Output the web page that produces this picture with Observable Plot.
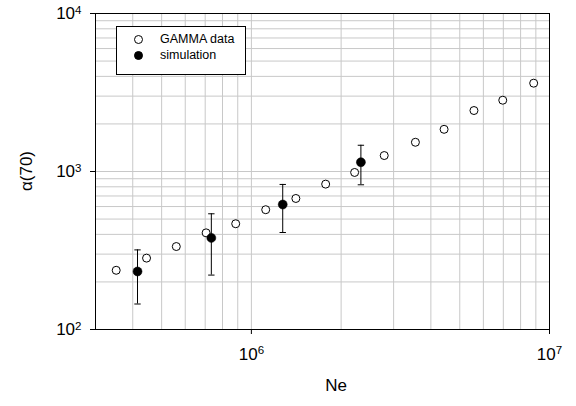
<!DOCTYPE html>
<html><head><meta charset="utf-8">
<script src="https://cdn.jsdelivr.net/npm/d3@7"></script>
<script src="https://cdn.jsdelivr.net/npm/@observablehq/plot@0.6"></script>
<style>
body{margin:0;background:#fff;font-family:"Liberation Sans",Arial,sans-serif}
#chart{position:relative;width:576px;height:406px}
.legend{position:absolute;left:116px;top:26px;width:130px;height:49px;border:1px solid #000;background:#fff;box-sizing:border-box}
.legend .sym{position:absolute;left:17px;width:9px;height:9px;border-radius:50%;box-sizing:border-box;border:1px solid #000}
.legend .lab{position:absolute;left:43px;font-size:12.5px;line-height:14px;color:#000}
</style>
</head><body>
<div id="chart"></div>
<script>
const gammaNe = [3.52e5, 4.45e5, 5.60e5, 7.05e5, 8.86e5, 1.117e6, 1.41e6, 1.775e6, 2.22e6, 2.79e6, 3.55e6, 4.43e6, 5.58e6, 6.97e6, 8.85e6];
const gammaAlpha = [237, 283, 335, 409, 467, 573, 675, 832, 986, 1262, 1531, 1849, 2432, 2826, 3622];
const simNe = [4.15e5, 7.34e5, 1.274e6, 2.33e6];
const simAlpha = [233, 380, 618, 1145];
const simLow = [145, 221, 411, 824];
const simHigh = [319, 540, 828, 1466];
const xTicks = [1e6, 1e7];
const yTicks = [1e2, 1e3, 1e4];
const seriesNames = ["GAMMA data", "simulation"];
const xTitle = "Ne";
const yTitle = "α(70)";

const gamma = gammaNe.map((x, i) => ({x, y: gammaAlpha[i]}));
const sim = simNe.map((x, i) => ({x, y: simAlpha[i], lo: simLow[i], hi: simHigh[i]}));

const minor = (lo, hi) => {
  const out = [];
  for (let e = Math.floor(Math.log10(lo)); e <= Math.ceil(Math.log10(hi)); e++)
    for (let m = 1; m < 10; m++) { const v = m * 10 ** e; if (v >= lo && v <= hi) out.push(v); }
  return out;
};
const xDomain = [3e5, 1e7], yDomain = [1e2, 1e4];

const capSymbol = {draw(ctx, size) { const w = Math.sqrt(size) / 2; ctx.moveTo(-w, 0); ctx.lineTo(w, 0); }};

const fmt = d => String(Math.round(Math.log10(d)));

const plot = Plot.plot({
  width: 576, height: 406,
  marginLeft: 95, marginRight: 27, marginTop: 13, marginBottom: 77,
  style: {fontFamily: '"Liberation Sans", Arial, sans-serif', fontSize: "17px", color: "#000", background: "#fff"},
  x: {type: "log", domain: xDomain},
  y: {type: "log", domain: yDomain},
  marks: [
    Plot.gridX(minor(...xDomain), {stroke: "#c8c8c8", strokeOpacity: 1, strokeWidth: 1}),
    Plot.gridY(minor(...yDomain), {stroke: "#c8c8c8", strokeOpacity: 1, strokeWidth: 1}),
    Plot.frame({stroke: "#000", strokeWidth: 1}),
    Plot.axisX({ticks: xTicks, tickFormat: fmt, tickSize: 5, tickPadding: 13, label: null, fontSize: 17}),
    Plot.axisY({ticks: yTicks, tickFormat: fmt, tickSize: 5, tickPadding: 9, label: null, fontSize: 17}),
    Plot.ruleX(sim, {x: "x", y1: "lo", y2: "hi", stroke: "#000", strokeWidth: 1}),
    Plot.dot(sim, {x: "x", y: "lo", symbol: capSymbol, r: 3.6, stroke: "#000", fill: "none", strokeWidth: 1}),
    Plot.dot(sim, {x: "x", y: "hi", symbol: capSymbol, r: 3.6, stroke: "#000", fill: "none", strokeWidth: 1}),
    Plot.dot(gamma, {x: "x", y: "y", r: 4, stroke: "#000", fill: "#fff", strokeWidth: 1}),
    Plot.dot(sim, {x: "x", y: "y", r: 4.5, fill: "#000", stroke: "#000", strokeWidth: 0.5})
  ]
});

// superscript tick labels: 10^n
d3.select(plot).selectAll("g[aria-label$='tick label'] text").each(function () {
  const t = d3.select(this);
  const e = t.text();
  t.text(null);
  t.append("tspan").text("10");
  t.append("tspan").attr("dy", "-0.45em").attr("font-size", "0.68em").text(e);
});

// axis titles
const sx = plot.scale("x"), sy = plot.scale("y");
const svg = d3.select(plot);
const xMid = (sx.range[0] + sx.range[1]) / 2;
const yMid = (sy.range[0] + sy.range[1]) / 2;
svg.append("text").attr("x", xMid + 14).attr("y", 391).attr("text-anchor", "middle")
  .attr("font-size", 17).attr("fill", "#000").text(xTitle);
svg.append("text").attr("transform", `translate(32,${yMid})rotate(-90)`).attr("text-anchor", "middle")
  .attr("font-size", 17).attr("fill", "#000").text(yTitle);

const chart = document.getElementById("chart");
chart.appendChild(plot);

// legend
const legend = document.createElement("div");
legend.className = "legend";
[[true, 11.5], [false, 28]].forEach(([open, top], i) => {
  const s = document.createElement("span");
  s.className = "sym";
  s.style.top = (top - 4.5 + 0.5) + "px";
  s.style.background = open ? "#fff" : "#000";
  legend.appendChild(s);
  const l = document.createElement("span");
  l.className = "lab";
  l.style.top = (top - 7) + "px";
  l.textContent = seriesNames[i];
  legend.appendChild(l);
});
chart.appendChild(legend);
</script>
</body></html>
